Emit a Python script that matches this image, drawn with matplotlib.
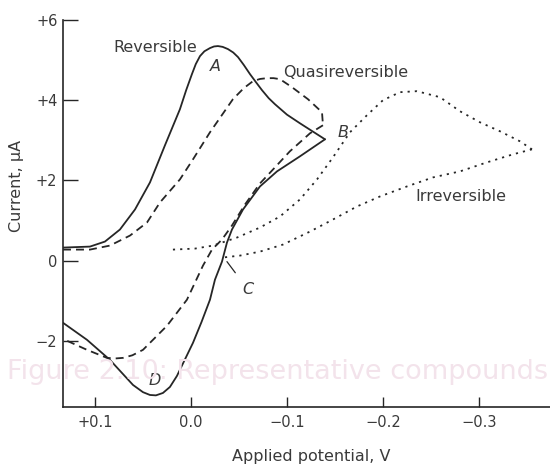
import matplotlib
matplotlib.use("Agg")
import matplotlib.pyplot as plt

# Cyclic voltammograms: potential (V) and current (µA)
rev_fwd_E = [0.1333, 0.1052, 0.0896, 0.0740, 0.0583, 0.0427, 0.0271, 0.0115, 0.0050,
             -0.0010, -0.0050, -0.0094, -0.0140, -0.0198, -0.0240, -0.0281, -0.0330,
             -0.0385, -0.0440, -0.0490, -0.0550, -0.0615, -0.0680, -0.0740, -0.0810,
             -0.0875, -0.1000, -0.1135, -0.1396]
rev_fwd_I = [0.325, 0.35, 0.475, 0.775, 1.275, 1.95, 2.875, 3.775, 4.25,
             4.65, 4.9, 5.1, 5.22, 5.3, 5.34, 5.35, 5.33,
             5.275, 5.19, 5.075, 4.88, 4.65, 4.44, 4.25, 4.05,
             3.9, 3.64, 3.425, 3.025]
rev_rev_E = [-0.1396, -0.1135, -0.0896, -0.0719, -0.0542, -0.0427, -0.0375, -0.0323,
             -0.0250, -0.0198, -0.0110, -0.0021, 0.0146, 0.0219, 0.0292, 0.0365, 0.0427,
             0.0500, 0.0604, 0.0844, 0.1083, 0.1333]
rev_rev_I = [3.025, 2.6, 2.225, 1.85, 1.275, 0.775, 0.45, -0.025,
             -0.475, -0.975, -1.53, -2.05, -2.875, -3.15, -3.3, -3.36, -3.35,
             -3.28, -3.1, -2.475, -1.975, -1.55]

quasi_fwd_E = [0.1333, 0.1052, 0.0844, 0.0635, 0.0458, 0.0323, 0.0115, -0.0021, -0.0198,
               -0.0437, -0.0550, -0.0646, -0.0720, -0.0792, -0.0860, -0.0927, -0.1052,
               -0.1219, -0.1365, -0.1375]
quasi_fwd_I = [0.275, 0.275, 0.375, 0.625, 0.95, 1.45, 2.025, 2.525, 3.2,
               4.025, 4.3, 4.475, 4.53, 4.55, 4.55, 4.525, 4.325,
               4.025, 3.7, 3.375]
quasi_rev_E = [-0.1375, -0.1240, -0.1030, -0.0875, -0.0719, -0.0563, -0.0427, -0.0323,
               -0.0219, -0.0125, 0.0042, 0.0250, 0.0500, 0.0610, 0.0708, 0.0790, 0.0875,
               0.1083, 0.1313]
quasi_rev_I = [3.375, 3.175, 2.725, 2.325, 1.925, 1.4, 0.875, 0.525,
               0.275, -0.125, -0.975, -1.625, -2.225, -2.36, -2.425, -2.44, -2.425,
               -2.225, -1.975]

irr_fwd_E = [0.0188, -0.0042, -0.0229, -0.0479, -0.0719, -0.0927, -0.1135, -0.1313,
             -0.1479, -0.1656, -0.1833, -0.2000, -0.2177, -0.2354, -0.2594, -0.2802,
             -0.3010, -0.3219, -0.3427, -0.3552]
irr_fwd_I = [0.275, 0.3, 0.375, 0.575, 0.825, 1.1, 1.525, 2.025,
             2.575, 3.2, 3.625, 4.0, 4.2, 4.225, 4.075, 3.725,
             3.45, 3.225, 2.975, 2.775]
irr_rev_E = [-0.3552, -0.3354, -0.3083, -0.2802, -0.2521, -0.2250, -0.1969, -0.1729,
             -0.1479, -0.1240, -0.0958, -0.0719, -0.0510, -0.0323]
irr_rev_I = [2.775, 2.65, 2.45, 2.225, 2.075, 1.85, 1.6, 1.35,
             1.025, 0.725, 0.4, 0.225, 0.125, 0.075]

y_ticks = [6, 4, 2, 0, -2]
y_tick_labels = ["+6", "+4", "+2", "0", "\u22122"]
x_ticks = [0.1, 0.0, -0.1, -0.2, -0.3]
x_tick_labels = ["+0.1", "0.0", "\u22120.1", "\u22120.2", "\u22120.3"]

ink = "#262626"
txt = "#3a3a3a"

fig = plt.figure(figsize=(5.5, 4.66), dpi=100)
fig.patch.set_facecolor("white")

# faint show-through text from the facing page
fig.text(0.012, 1 - 372 / 466, "Figure 2.10: Representative compounds", fontsize=19.5,
         color="#f3e3eb", ha="left", va="center", family="DejaVu Sans", zorder=0)

ax = fig.add_axes([63 / 550, 1 - 407 / 466, 1 - 63 / 550, (407 - 20) / 466])
ax.set_facecolor("none")
ax.set_xlim(0.1333, -0.374)
ax.set_ylim(-3.65, 6.0)

lw = 1.3
line_kw = dict(color=ink, lw=lw, solid_joinstyle="round", solid_capstyle="round",
               dash_joinstyle="round")
ax.plot(rev_fwd_E, rev_fwd_I, **line_kw)
ax.plot(rev_rev_E, rev_rev_I, **line_kw)
ax.plot(quasi_fwd_E, quasi_fwd_I, dashes=(4.4, 2.8), **line_kw)
ax.plot(quasi_rev_E, quasi_rev_I, dashes=(4.4, 2.8), **line_kw)
ax.plot(irr_fwd_E, irr_fwd_I, dashes=(1.2, 2.8), **line_kw)
ax.plot(irr_rev_E, irr_rev_I, dashes=(1.2, 2.8), **line_kw)

# pointer to C
ax.annotate("C", xy=(-0.0375, -0.025), xytext=(-0.0594, -0.725), color=txt,
            fontsize=11.5, style="italic", ha="center", va="center",
            arrowprops=dict(arrowstyle="-", color=ink, lw=0.9, shrinkA=6, shrinkB=0))

lab = dict(color=txt, fontsize=11.5, ha="center", va="center", family="DejaVu Sans")
ax.text(0.0375, 5.325, "Reversible", **lab)
ax.text(-0.1615, 4.7, "Quasireversible", **lab)
ax.text(-0.281, 1.6, "Irreversible", **lab)
ax.text(-0.025, 4.85, "A", style="italic", **lab)
ax.text(-0.158, 3.2, "B", style="italic", **lab)
ax.text(0.0375, -3.0, "D", style="italic", **lab)

for s in ["top", "right"]:
    ax.spines[s].set_visible(False)
for s in ["left", "bottom"]:
    ax.spines[s].set_color(ink)
    ax.spines[s].set_linewidth(1.2)

ax.set_yticks(y_ticks)
ax.set_yticklabels(y_tick_labels)
ax.set_xticks(x_ticks)
ax.set_xticklabels(x_tick_labels)
ax.tick_params(axis="y", direction="in", length=11, width=1.0, color=ink,
               labelsize=10.5, labelcolor=txt, pad=4)
ax.tick_params(axis="x", direction="in", length=7, width=1.0, color=ink,
               labelsize=10.5, labelcolor=txt, pad=6)

fig.text(311 / 550, 1 - 457 / 466, "Applied potential, V", fontsize=11.5, color=txt,
         ha="center", va="center")
fig.text(17 / 550, 1 - 186 / 466, "Current, \u00b5A", fontsize=11.5, color=txt,
         ha="center", va="center", rotation=90)

fig.savefig("out.png", dpi=100, facecolor="white")
